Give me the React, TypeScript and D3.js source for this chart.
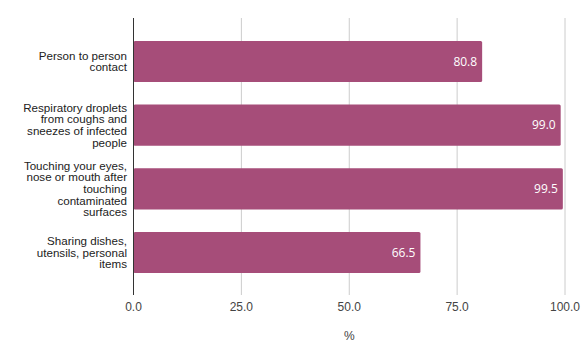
import React from "react";
import * as d3 from "d3";

const categories: string[][] = [
  ["Person to person", "contact"],
  ["Respiratory droplets", "from coughs and", "sneezes of infected", "people"],
  ["Touching your eyes,", "nose or mouth after", "touching", "contaminated", "surfaces"],
  ["Sharing dishes,", "utensils, personal", "items"],
];
const values: number[] = [80.8, 99.0, 99.5, 66.5];
const ticks: number[] = [0, 25, 50, 75, 100];
const axisTitle = "%";

const W = 583;
const H = 360;

export default function App() {
  const x = d3.scaleLinear().domain([0, 100]).range([133.5, 565]);
  const idx = categories.map((_, i) => String(i));
  const y = d3.scaleBand().domain(idx).range([18, 296]).paddingInner(0.355).paddingOuter(0.36);
  const color = "#a64d79";
  const lh = 11.7;
  return (
    <svg width={W} height={H} style={{ position: "absolute", left: 0, top: 0, background: "#fff" }}>
      {ticks.map((t) => (
        <line key={"g" + t} x1={x(t)} x2={x(t)} y1={18} y2={295} stroke="#cccccc" strokeWidth={1} />
      ))}
      {values.map((v, i) => (
        <g key={"b" + i}>
          <rect x={x(0)} y={y(String(i))!} width={x(v) - x(0)} height={y.bandwidth()} fill={color} rx={1.5} />
          <text
            x={x(v) - 5}
            y={y(String(i))! + y.bandwidth() / 2}
            dy="0.35em"
            textAnchor="end"
            fill="#ffffff"
            fontFamily="'Open Sans', sans-serif"
            fontSize={12}
          >
            {v.toFixed(1)}
          </text>
        </g>
      ))}
      <line x1={x(0)} x2={x(0)} y1={18} y2={295} stroke="#333333" strokeWidth={1} />
      {categories.map((lines, i) => {
        const cy = y(String(i))! + y.bandwidth() / 2;
        const start = cy - ((lines.length - 1) * lh) / 2;
        return (
          <text key={"c" + i} textAnchor="end" fontFamily="'Liberation Sans', Arial, sans-serif" fontSize={11.6} fill="#222222">
            {lines.map((l, j) => (
              <tspan key={j} x={127} y={start + j * lh} dy="0.35em">
                {l}
              </tspan>
            ))}
          </text>
        );
      })}
      {ticks.map((t) => (
        <text key={"t" + t} x={x(t)} y={307} dy="0.35em" textAnchor="middle" fontFamily="'Liberation Sans', Arial, sans-serif" fontSize={12} fill="#444444">
          {t.toFixed(1)}
        </text>
      ))}
      <text x={(x(0) + x(100)) / 2} y={336} dy="0.35em" textAnchor="middle" fontFamily="'Liberation Sans', Arial, sans-serif" fontSize={12} fill="#444444">
        {axisTitle}
      </text>
    </svg>
  );
}
